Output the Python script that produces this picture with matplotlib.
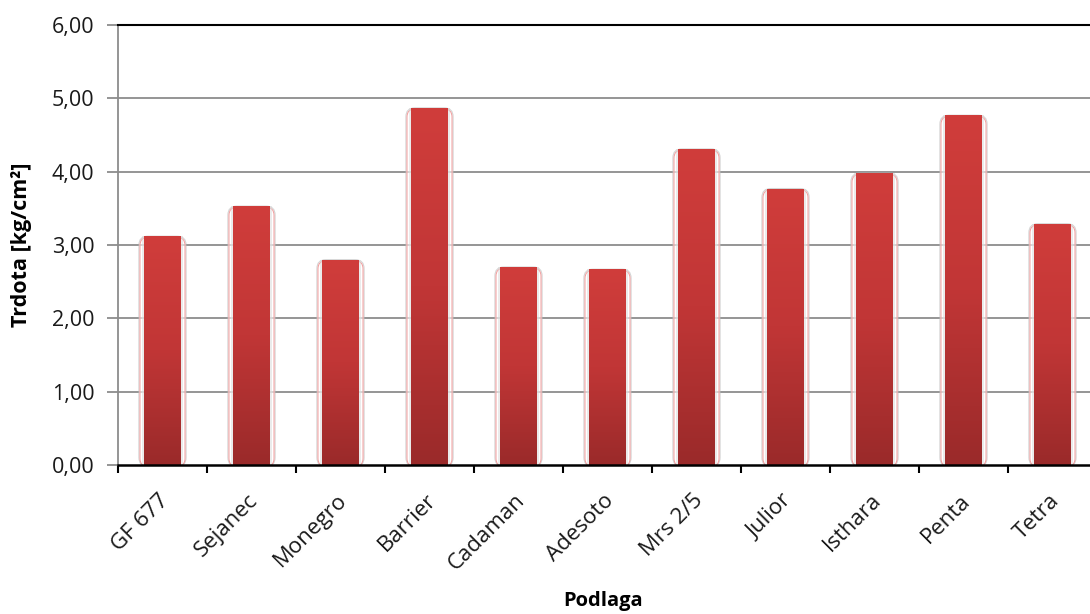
import matplotlib.pyplot as plt
import matplotlib.transforms as mtransforms
import numpy as np
from matplotlib.patches import FancyBboxPatch, Rectangle
from matplotlib.colors import LinearSegmentedColormap

plt.rcParams['font.family'] = ['Open Sans', 'DejaVu Sans']

# Data
podlage = ['GF 677', 'Sejanec', 'Monegro', 'Barrier', 'Cadaman', 'Adesoto',
           'Mrs 2/5', 'Julior', 'Isthara', 'Penta', 'Tetra']
trdota = [3.12, 3.53, 2.80, 4.87, 2.70, 2.67, 4.31, 3.77, 3.98, 4.77, 3.29]
y_ticks = [0, 1, 2, 3, 4, 5, 6]
y_tick_labels = ['0,00', '1,00', '2,00', '3,00', '4,00', '5,00', '6,00']

fig = plt.figure(figsize=(10.9, 6.14), dpi=100)
ax = fig.add_axes([118 / 1090, 1 - 465 / 614, 979 / 1090, 440 / 614])

n = len(podlage)
x = np.arange(n)
bar_w = 0.41
halo_w = 0.53

ax.set_xlim(-0.5, n - 0.5)
ax.set_ylim(0, 6)

# Gridlines
for t in y_ticks[1:-1]:
    ax.axhline(t, color='#8c8c8c', linewidth=1.3, zorder=1)

# Vertical gradient used to fill each bar
cmap = LinearSegmentedColormap.from_list('bar', ['#9a2a2a', '#c13636', '#d03d3b'])
grad = np.linspace(0, 1, 256).reshape(-1, 1)

# Pixel aspect correction for rounded corners
aspect = (6 / 440) / (n / 979)

for xi, val in zip(x, trdota):
    halo = FancyBboxPatch((xi - halo_w / 2, -0.02), halo_w, val + 0.02,
                          boxstyle='round,pad=0,rounding_size=0.1',
                          mutation_aspect=aspect,
                          facecolor='white', alpha=0.6,
                          edgecolor='#b8b8b8', linewidth=0.8, zorder=2)
    ax.add_patch(halo)
    inner = FancyBboxPatch((xi - halo_w / 2 + 0.012, -0.02), halo_w - 0.024, val + 0.005,
                           boxstyle='round,pad=0,rounding_size=0.09',
                           mutation_aspect=aspect,
                           facecolor='none', edgecolor='#f29a9a',
                           linewidth=0.7, zorder=2.2)
    ax.add_patch(inner)
    shadow = Rectangle((xi - bar_w / 2 - 0.025, 0), bar_w + 0.05, val,
                       facecolor='#d9d9d9', edgecolor='none', alpha=0.5, zorder=2.5)
    ax.add_patch(shadow)
    im = ax.imshow(grad, cmap=cmap, aspect='auto', origin='lower',
                   extent=(xi - bar_w / 2, xi + bar_w / 2, 0, val), zorder=3)
    clip = Rectangle((xi - bar_w / 2, 0), bar_w, val, transform=ax.transData)
    im.set_clip_path(clip)

ax.set_xlim(-0.5, n - 0.5)
ax.set_ylim(0, 6)

# Axes styling
ax.spines['top'].set_color('black')
ax.spines['top'].set_linewidth(1.5)
ax.spines['bottom'].set_color('black')
ax.spines['bottom'].set_linewidth(1.8)
ax.spines['left'].set_color('#8c8c8c')
ax.spines['left'].set_linewidth(1.3)
ax.spines['right'].set_visible(False)
ax.spines['bottom'].set_zorder(5)

ax.set_yticks(y_ticks)
ax.set_yticklabels(y_tick_labels, fontsize=15.5, color='#1a1a1a')
ax.tick_params(axis='y', length=8, width=1.3, color='#8c8c8c', pad=9)

ax.set_xticks(np.arange(-0.5, n, 1.0))
ax.set_xticklabels([])
ax.tick_params(axis='x', which='major', length=6, width=1.5, color='black')
ax.set_xticks(x, minor=True)
ax.set_xticklabels(podlage, minor=True, rotation=45, ha='right',
                   rotation_mode='anchor', fontsize=16, color='#1a1a1a')
ax.tick_params(axis='x', which='minor', length=0, pad=18)

# nudge rotated labels slightly left
shift = mtransforms.ScaledTranslation(-4 / 100, 0, fig.dpi_scale_trans)
for lbl in ax.get_xticklabels(minor=True):
    lbl.set_transform(lbl.get_transform() + shift)

ax.set_ylabel('Trdota [kg/cm²]', fontsize=15.5, fontweight='bold')
ax.yaxis.set_label_coords(-86 / 979, 0.5)
fig.text(603 / 1090, 1 - 601 / 614, 'Podlaga', fontsize=14.5, fontweight='bold',
         ha='center', va='center')

fig.savefig('out.png', dpi=100)
